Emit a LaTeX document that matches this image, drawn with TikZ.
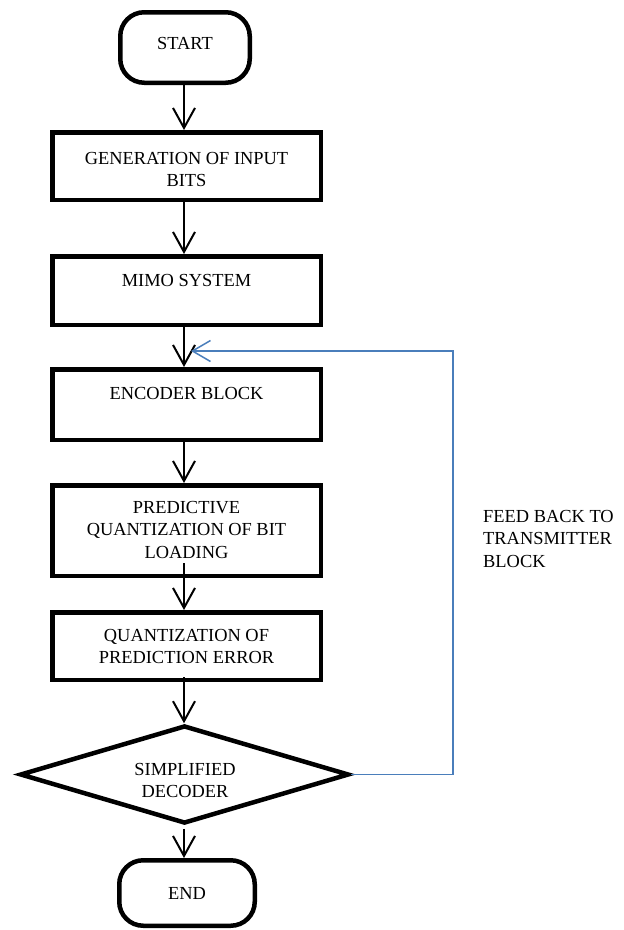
\documentclass[tikz,border=0pt]{standalone}
\usepackage{fontspec}
\setmainfont{Liberation Serif}
\usetikzlibrary{shapes.geometric,arrows.meta}
\definecolor{fbblue}{HTML}{4A7EBB}
\begin{document}
\begin{tikzpicture}[x=1pt,y=-1pt,
  lbl/.style={font=\fontsize{18.4}{22.5}\selectfont},
  term/.style={draw=black,line width=4.5pt,rounded corners=24pt,inner sep=0pt,lbl},
  box/.style={draw=black,line width=4.5pt,minimum width=268.5pt,inner sep=0pt},
  txt/.style={inner sep=0pt,anchor=north,align=center,lbl},
  flow/.style={line width=2pt,-{Straight Barb[length=20pt,width=22pt,line width=2pt]}},
  fb/.style={draw=fbblue,line width=1.5pt,-{Straight Barb[length=18pt,width=21pt,line width=1.5pt]}}]
\useasboundingbox (0,0) rectangle (624,930);
\fill[white] (0,0) rectangle (624,930);

\node[term,minimum width=129.5pt,minimum height=70.5pt,text depth=8pt] (start) at (185,47.5) {START};
\node[box,minimum height=67.5pt] (b1) at (186.5,166) {};
\node[box,minimum height=68.5pt] (b2) at (186.5,290.5) {};
\node[box,minimum height=70.5pt] (b3) at (186.5,404.5) {};
\node[box,minimum height=90.5pt] (b4) at (186.5,530.5) {};
\node[box,minimum height=67.5pt] (b5) at (186.5,646) {};
\node[diamond,draw=black,line width=4.5pt,minimum width=329pt,minimum height=98pt,inner sep=0pt] (d) at (184.5,774.5) {};
\node[term,minimum width=135.5pt,minimum height=65.5pt] (end) at (187,893) {END};

\node[txt] (t1) at (186.5,152) {GENERATION OF INPUT\\BITS};
\node[txt] (t2) at (186.5,274) {MIMO SYSTEM};
\node[txt] (t3) at (186.5,387) {ENCODER BLOCK};
\node[txt] (t4) at (186.5,501) {PREDICTIVE\\QUANTIZATION OF BIT\\LOADING};
\node[txt] (t5) at (186.5,629) {QUANTIZATION OF\\PREDICTION ERROR};
\node[txt] (td) at (185,763) {SIMPLIFIED\\DECODER};
\node[inner sep=0pt,anchor=north west,align=left,lbl] (tf) at (483,510) {FEED BACK TO\\TRANSMITTER\\BLOCK};

\coordinate (ax) at (184,0);
\draw[flow] (start.south -| ax) -- (b1.north -| ax);
\draw[flow] (b1.south -| ax) -- (b2.north -| ax);
\draw[flow] (b2.south -| ax) -- (b3.north -| ax);
\draw[flow] (b3.south -| ax) -- (b4.north -| ax);
\draw[flow] ([yshift=15pt]b4.south -| ax) -- (b5.north -| ax);
\draw[flow] ([yshift=5pt]b5.south -| ax) -- (d.north -| ax);
\draw[flow] ([yshift=-3pt]d.south -| ax) -- (end.north -| ax);

\coordinate (fbr) at (453,351);
\coordinate (fbt) at (191,351);
\draw[fb] (d.east) -| (fbr) -- (fbt);
\end{tikzpicture}
\end{document}
